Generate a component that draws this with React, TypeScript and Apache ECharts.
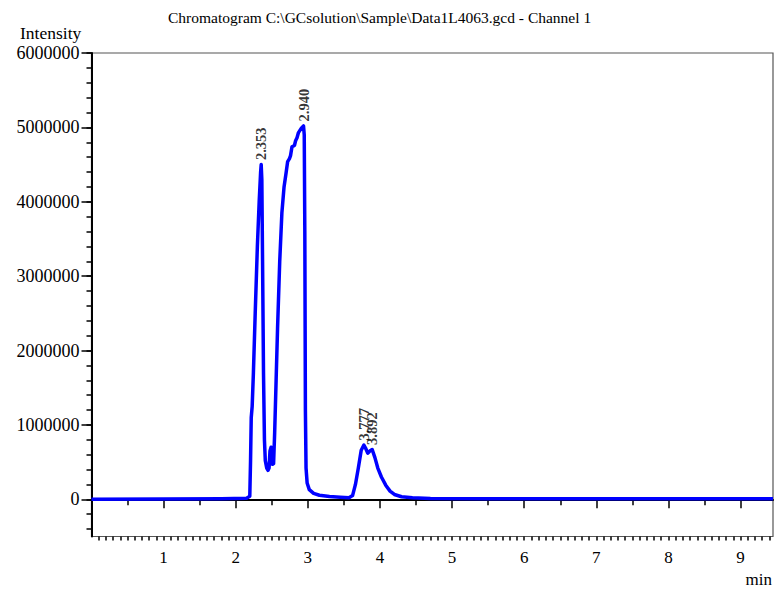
import React, { useEffect, useRef } from "react";
import * as echarts from "echarts";

// Retention time (min) and intensity
const times = [
  0, 1.0, 1.8, 2.15, 2.195, 2.205, 2.215, 2.228, 2.245, 2.27, 2.3, 2.325, 2.345, 2.353,
  2.362, 2.372, 2.385, 2.398, 2.41, 2.43, 2.448, 2.462, 2.475, 2.49, 2.5, 2.51, 2.525,
  2.54, 2.56, 2.58, 2.61, 2.64, 2.67, 2.7, 2.72, 2.745, 2.76, 2.78, 2.8, 2.815, 2.83,
  2.85, 2.87, 2.89, 2.91, 2.93, 2.94, 2.95, 2.958, 2.966, 2.975, 2.99, 3.02, 3.08,
  3.16, 3.3, 3.45, 3.57, 3.62, 3.66, 3.7, 3.74, 3.777, 3.8, 3.83, 3.86, 3.892, 3.93,
  3.97, 4.02, 4.08, 4.14, 4.2, 4.3, 4.45, 4.7, 5.5, 6.5, 7.5, 8.5, 9.45,
];
const intensities = [
  0, 4000, 8000, 15000, 40000, 500000, 1100000, 1250000, 1700000, 2500000, 3400000,
  4000000, 4400000, 4500000, 4300000, 3200000, 1700000, 800000, 520000, 420000, 390000,
  420000, 650000, 700000, 680000, 470000, 480000, 900000, 1600000, 2300000, 3200000,
  3850000, 4200000, 4400000, 4540000, 4580000, 4620000, 4740000, 4750000, 4760000,
  4820000, 4860000, 4930000, 4960000, 4990000, 5010000, 5020000, 4900000, 3600000,
  1200000, 420000, 220000, 130000, 80000, 55000, 38000, 28000, 22000, 50000, 200000,
  420000, 660000, 730000, 690000, 620000, 650000, 670000, 560000, 420000, 300000,
  190000, 110000, 65000, 35000, 20000, 12000, 9000, 8000, 8000, 8000, 8000,
];

const peakTimes = [2.353, 2.94, 3.777, 3.892];
const peakIntensities = [4500000, 5020000, 730000, 670000];
const peakLabels = ["2.353", "2.940", "3.777", "3.892"];

const yMajorTicks = [0, 1000000, 2000000, 3000000, 4000000, 5000000, 6000000];
const xMajorTicks = [1, 2, 3, 4, 5, 6, 7, 8, 9];

const titleText = "Chromatogram C:\\GCsolution\\Sample\\Data1L4063.gcd - Channel 1";

export default function App() {
  const ref = useRef<HTMLDivElement>(null);

  useEffect(() => {
    if (!ref.current) return;
    const chart = echarts.init(ref.current, null, { renderer: "svg" });

    const font = "Liberation Serif";
    const xMin = 0;
    const xMax = 9.45;
    const yMin = -500000;
    const yMax = 6000000;

    const xMinor: number[] = [];
    for (let i = 1; i <= 94; i++) xMinor.push(i / 10);
    const xMid: number[] = [];
    for (let i = 0; i <= 9; i++) xMid.push(i + 0.5);
    const yMinor: number[] = [];
    for (let v = -400000; v <= 6000000; v += 200000) yMinor.push(v);

    const lineData = times.map((t, i) => [t, intensities[i]]);
    const peakData = peakTimes.map((t, i) => ({
      value: [t, peakIntensities[i]],
      name: peakLabels[i],
    }));

    const baseX = {
      type: "value",
      min: xMin,
      max: xMax,
      position: "bottom",
      splitLine: { show: false },
    };
    const baseY = {
      type: "value",
      min: yMin,
      max: yMax,
      position: "left",
      splitLine: { show: false },
    };

    chart.setOption({
      animation: false,
      backgroundColor: "#ffffff",
      grid: {
        left: 91.5,
        right: 3,
        top: 53,
        bottom: 52.5,
        show: true,
        borderColor: "#555555",
        borderWidth: 1.2,
        backgroundColor: "transparent",
      },
      graphic: [
        {
          type: "text",
          left: 168,
          top: 9,
          style: { text: titleText, fontSize: 15.5, fontFamily: font, fill: "#000" },
        },
        {
          type: "text",
          left: 20,
          top: 24,
          style: { text: "Intensity", fontSize: 17.5, fontFamily: font, fill: "#000" },
        },
        {
          type: "text",
          right: 4,
          top: 571,
          style: { text: "min", fontSize: 17, fontFamily: font, fill: "#000" },
        },
      ],
      xAxis: [
        {
          ...baseX,
          axisLine: { show: true, lineStyle: { color: "#000", width: 2 } },
          axisTick: {
            show: true,
            length: 9,
            customValues: xMajorTicks,
            lineStyle: { color: "#000", width: 1.5 },
          },
          axisLabel: {
            show: true,
            customValues: xMajorTicks,
            margin: 12,
            fontSize: 17,
            fontFamily: font,
            color: "#000",
          },
        },
        {
          ...baseX,
          axisLine: { show: false },
          axisTick: {
            show: true,
            length: 6,
            customValues: xMid,
            lineStyle: { color: "#000", width: 1.5 },
          },
          axisLabel: { show: false },
        },
        {
          ...baseX,
          axisLine: { show: false },
          axisTick: {
            show: true,
            length: 4,
            customValues: xMinor,
            lineStyle: { color: "#000", width: 1.5 },
          },
          axisLabel: { show: false },
        },
      ],
      yAxis: [
        {
          ...baseY,
          axisLine: { show: true, lineStyle: { color: "#000", width: 2 } },
          axisTick: {
            show: true,
            length: 10,
            customValues: yMajorTicks,
            lineStyle: { color: "#000", width: 1.5 },
          },
          axisLabel: {
            show: true,
            customValues: yMajorTicks,
            formatter: (v: number) => String(v),
            margin: 12,
            fontSize: 18,
            fontFamily: font,
            color: "#000",
          },
        },
        {
          ...baseY,
          axisLine: { show: false },
          axisTick: {
            show: true,
            length: 5,
            customValues: yMinor,
            lineStyle: { color: "#000", width: 1.5 },
          },
          axisLabel: { show: false },
        },
      ],
      series: [
        {
          type: "line",
          xAxisIndex: 0,
          yAxisIndex: 0,
          data: lineData,
          showSymbol: false,
          symbol: "none",
          smooth: false,
          lineStyle: { color: "#0000ff", width: 3.5, join: "round" },
          z: 3,
        },
        {
          type: "scatter",
          xAxisIndex: 0,
          yAxisIndex: 0,
          data: peakData,
          symbolSize: 1,
          itemStyle: { color: "rgba(0,0,0,0)" },
          label: {
            show: true,
            position: "top",
            distance: 4,
            rotate: 90,
            align: "left",
            verticalAlign: "middle",
            formatter: (p: any) => p.name,
            fontSize: 14.5,
            fontWeight: "bold",
            fontFamily: font,
            color: "#000",
          },
          labelLayout: { hideOverlap: false },
          z: 4,
        },
      ],
    });

    return () => chart.dispose();
  }, []);

  return (
    <div
      ref={ref}
      style={{ position: "fixed", left: 0, top: 0, width: 776, height: 589 }}
    />
  );
}
